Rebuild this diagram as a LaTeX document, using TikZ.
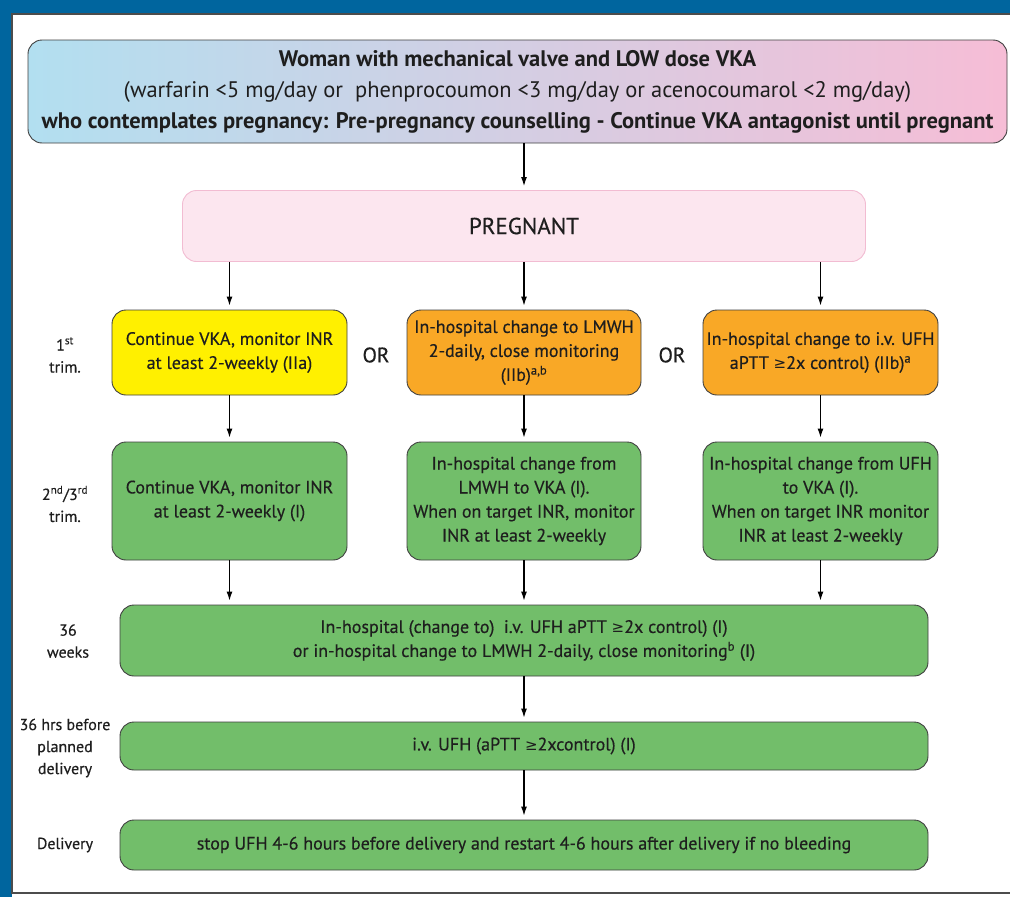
\documentclass[tikz,border=0pt]{standalone}
\usepackage{fontspec}
\setmainfont{PT Sans}
\newfontfamily\medfont{PT Sans}[FakeBold=0.4]
\newfontfamily\symfont{DejaVu Sans}
\usetikzlibrary{arrows.meta,positioning,calc}
\definecolor{frameblue}{HTML}{00659E}
\definecolor{boxgreen}{HTML}{72BE6A}
\definecolor{boxyellow}{HTML}{FFF000}
\definecolor{boxorange}{HTML}{F9A826}
\definecolor{pregpink}{HTML}{FCE6EF}
\definecolor{pinkedge}{HTML}{F2BCD2}
\definecolor{topblue}{HTML}{B2DFF0}
\definecolor{toppink}{HTML}{F6BDD6}
\definecolor{txtdark}{HTML}{1E1E1E}
\newcommand{\gtsign}{{\symfont\fontsize{15}{18}\selectfont ≥}}

\begin{document}
\begin{tikzpicture}[x=1pt, y=-1pt,
  box/.style={draw=black!75, rounded corners=14pt, line width=0.9pt, align=center,
    text=txtdark, font=\medfont\fontsize{18}{24}\selectfont, inner sep=0pt},
  greenbox/.style={box, fill=boxgreen},
  yellowbox/.style={box, fill=boxyellow},
  orangebox/.style={box, fill=boxorange},
  arr/.style={-{Latex[length=9pt,width=6pt]}, line width=1.1pt, shorten >=4pt},
  stage/.style={font=\medfont\fontsize{16}{22}\selectfont, align=center, text=txtdark},
  ortext/.style={font=\medfont\fontsize{21}{24}\selectfont, text=txtdark}
]
\useasboundingbox (0,0) rectangle (1010,897);
% frame
\fill[frameblue] (0,0) rectangle (1010,897);
\fill[white] (12,14) rectangle (1010,897);
\draw[black!70, line width=1.2pt] (1010,14) -- (12,14) -- (12,893) -- (1010,893);

% top and pregnant
\node[box, left color=topblue, right color=toppink, minimum width=979pt, minimum height=103pt,
  font=\fontsize{22.5}{31}\selectfont] (womn) at (517.5,91.5)
  {\textbf{Woman with mechanical valve and LOW dose VKA}\\
   (warfarin <5 mg/day or\ \ phenprocoumon <3 mg/day or acenocoumarol <2 mg/day)\\
   \textbf{who contemplates pregnancy: Pre-pregnancy counselling - Continue VKA antagonist until pregnant}};
\node[box, draw=pinkedge, fill=pregpink, minimum width=683pt, minimum height=71pt,
  font=\medfont\fontsize{23}{26}\selectfont] (preg) at (524,226) {PREGNANT};

% 1st trimester
\node[yellowbox, minimum width=235pt, minimum height=85pt] (vkaA) at (229.5,352.5)
  {Continue VKA, monitor INR\\ at least 2-weekly (IIa)};
\node[orangebox, minimum width=234pt, minimum height=85pt] (lmwhA) at (524,352.5)
  {In-hospital change to LMWH\\ 2-daily, close monitoring\\ (IIb)\textsuperscript{a,b}};
\node[orangebox, minimum width=235pt, minimum height=85pt] (ufhA) at (820.5,352.5)
  {In-hospital change to i.v. UFH\\ aPTT \gtsign2x control) (IIb)\textsuperscript{a}};
\node[ortext] (orA) at (376,355) {OR};
\node[ortext] (orB) at (672,355) {OR};

% 2nd/3rd trimester
\node[greenbox, minimum width=235pt, minimum height=118pt] (vkaB) at (229.5,501)
  {Continue VKA, monitor INR\\ at least 2-weekly (I)};
\node[greenbox, minimum width=234pt, minimum height=118pt] (lmwhB) at (524,501)
  {In-hospital change from\\ LMWH to VKA (I).\\ When on target INR, monitor\\ INR at least 2-weekly};
\node[greenbox, minimum width=235pt, minimum height=118pt] (ufhB) at (820.5,501)
  {In-hospital change from UFH\\ to VKA (I).\\ When on target INR monitor\\ INR at least 2-weekly};

% late pregnancy and delivery
\node[greenbox, minimum width=808pt, minimum height=71pt] (wks) at (524,640.5)
  {In-hospital (change to)\ \ i.v. UFH aPTT \gtsign2x control) (I)\\
   or in-hospital change to LMWH 2-daily, close monitoring\textsuperscript{b} (I)};
\node[greenbox, minimum width=808pt, minimum height=48pt] (hrs) at (524,746)
  {i.v. UFH (aPTT \gtsign2xcontrol) (I)};
\node[greenbox, minimum width=808pt, minimum height=50pt] (dlv) at (524,845)
  {stop UFH 4-6 hours before delivery and restart 4-6 hours after delivery if no bleeding};

% stage labels
\node[stage] (lblA) at (65,355) {1\textsuperscript{st}\\ trim.};
\node[stage] (lblB) at (65,504) {2\textsuperscript{nd}/3\textsuperscript{rd}\\ trim.};
\node[stage] (lblC) at (68,641) {36\\ weeks};
\node[stage] (lblD) at (65,748) {36 hrs before\\ planned\\ delivery};
\node[stage] (lblE) at (65,845) {Delivery};

% arrows
\draw[arr] (womn.south -| preg.north) -- (preg.north);
\foreach \a/\b in {vkaA/vkaB, lmwhA/lmwhB, ufhA/ufhB} {
  \draw[arr] (preg.south -| \a.north) -- (\a.north);
  \draw[arr] (\a.south) -- (\b.north);
  \draw[arr] (\b.south) -- (\b.south |- wks.north);
}
\draw[arr] (wks.south) -- (hrs.north);
\draw[arr] (hrs.south) -- (dlv.north);
\end{tikzpicture}
\end{document}
